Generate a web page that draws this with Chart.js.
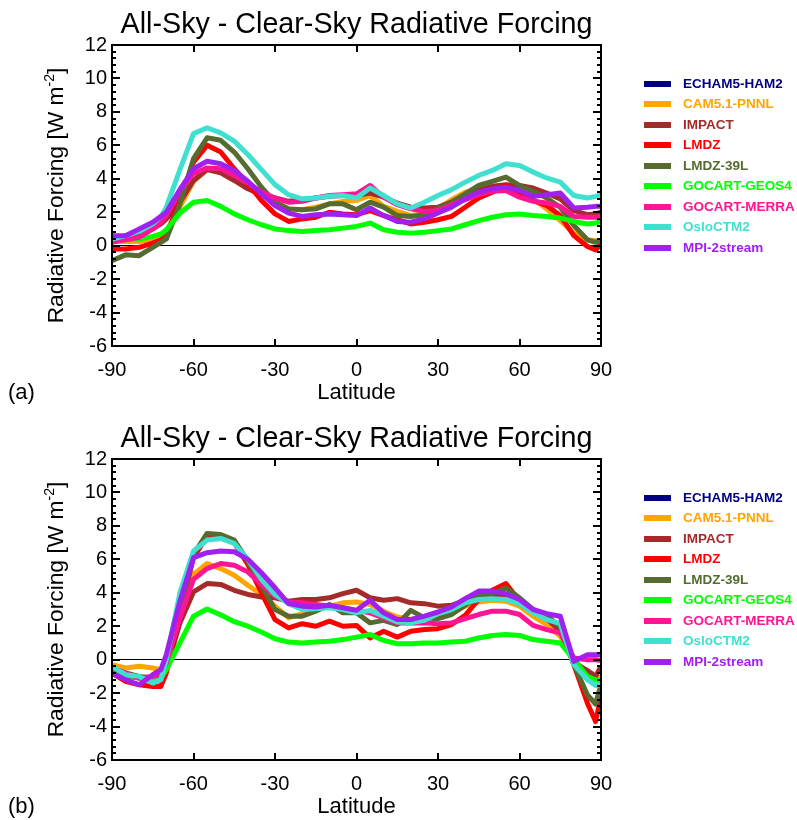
<!DOCTYPE html>
<html>
<head>
<meta charset="utf-8">
<script src="https://cdn.jsdelivr.net/npm/chart.js@4.4.1/dist/chart.umd.min.js"></script>
<style>
  html, body { margin: 0; padding: 0; background: #fff; overflow: hidden; }
  .panel { position: absolute; left: 0; width: 797px; height: 410px; }
</style>
</head>
<body>
<div class="panel" style="top:0"><canvas id="chartA" width="797" height="410"></canvas></div>
<div class="panel" style="top:414px"><canvas id="chartB" width="797" height="410"></canvas></div>
<script>
const FONT = '"Liberation Sans", Arial, Helvetica, sans-serif';

const latitudes = [-90, -85, -80, -75, -72, -70, -65, -60, -55, -50, -45, -40, -35, -30, -25, -20, -15, -10, -5,
    0, 5, 10, 15, 20, 25, 30, 35, 40, 45, 50, 55, 60, 65, 70, 75, 80, 85, 88, 90];

// ECHAM5-HAM2 is listed in the legend only: the figure draws no curve for it
const models = ['ECHAM5-HAM2', 'CAM5.1-PNNL', 'IMPACT', 'LMDZ', 'LMDZ-39L',
    'GOCART-GEOS4', 'GOCART-MERRA', 'OsloCTM2', 'MPI-2stream'];
const modelColors = ['#000080', '#ffa500', '#a52a2a', '#ff0000', '#556b2f',
    '#00ff00', '#ff1493', '#40e0d0', '#a020f0'];

// panel (a)
const camA = [0.25, 0.25, 0.25, 0.4, 0.6, 0.85, 2.3, 3.85, 4.55, 4.55, 4.2, 3.6, 3.05, 2.65, 2.2, 2.15, 2.3, 2.5, 2.65,
    2.7, 3.0, 2.35, 2.05, 1.8, 1.9, 2.2, 2.75, 3.2, 3.4, 3.5, 3.55, 3.25, 2.8, 2.2, 1.5, 0.75, 0.35, 0.3, 0.3];
const impactA = [0.2, 0.45, 0.7, 1.0, 1.3, 1.6, 2.6, 3.9, 4.55, 4.35, 3.9, 3.4, 3.05, 2.85, 2.65, 2.75, 2.85, 2.95, 3.0,
    3.0, 3.15, 2.9, 2.55, 2.3, 2.25, 2.3, 2.6, 3.0, 3.3, 3.55, 3.65, 3.6, 3.45, 3.15, 2.8, 2.1, 1.85, 1.9, 2.0];
const lmdzA = [-0.2, -0.2, -0.1, 0.15, 0.35, 0.6, 2.75, 5.0, 6.0, 5.6, 4.6, 3.7, 2.7, 1.9, 1.45, 1.6, 1.7, 2.0, 1.9,
    1.85, 2.1, 1.8, 1.55, 1.3, 1.4, 1.55, 1.75, 2.3, 2.85, 3.2, 3.6, 3.1, 2.7, 2.4, 1.8, 0.6, -0.05, -0.25, 0.1];
const lmdz39A = [-0.9, -0.55, -0.6, -0.1, 0.2, 0.4, 2.5, 5.2, 6.45, 6.3, 5.6, 4.6, 3.5, 2.6, 2.2, 2.15, 2.2, 2.5, 2.5,
    2.15, 2.6, 2.3, 1.8, 1.75, 1.85, 2.25, 2.6, 3.1, 3.6, 3.85, 4.1, 3.6, 3.25, 2.85, 2.3, 1.2, 0.35, 0.2, 0.3];
const geos4A = [0.35, 0.35, 0.4, 0.55, 0.7, 0.95, 1.95, 2.6, 2.7, 2.35, 1.9, 1.55, 1.25, 1.0, 0.9, 0.85, 0.9, 0.95, 1.05,
    1.15, 1.35, 0.95, 0.8, 0.75, 0.8, 0.9, 1.0, 1.25, 1.5, 1.7, 1.85, 1.9, 1.8, 1.75, 1.65, 1.45, 1.3, 1.35, 1.45];
const merraA = [0.25, 0.35, 0.5, 1.0, 1.4, 1.8, 3.3, 4.3, 4.65, 4.6, 4.2, 3.75, 3.2, 2.85, 2.6, 2.65, 2.85, 3.0, 3.05,
    3.1, 3.6, 2.9, 2.45, 2.2, 2.05, 2.1, 2.45, 2.75, 3.05, 3.25, 3.3, 2.9, 2.65, 2.55, 2.35, 1.75, 1.7, 1.7, 1.75];
const osloA = [0.4, 0.6, 0.85, 1.3, 1.75, 2.3, 4.55, 6.7, 7.05, 6.75, 6.25, 5.45, 4.55, 3.65, 3.05, 2.8, 2.85, 2.95, 3.0,
    2.85, 3.45, 3.0, 2.5, 2.25, 2.6, 3.0, 3.35, 3.8, 4.2, 4.5, 4.9, 4.8, 4.4, 4.05, 3.8, 3.0, 2.85, 2.95, 3.05];
const mpiA = [0.6, 0.6, 1.0, 1.4, 1.75, 2.0, 3.35, 4.6, 5.05, 4.9, 4.5, 3.85, 3.1, 2.4, 1.95, 1.75, 1.85, 1.9, 1.85,
    1.8, 2.25, 1.8, 1.45, 1.4, 1.6, 1.95, 2.3, 2.8, 3.2, 3.4, 3.5, 3.3, 2.95, 3.05, 3.15, 2.25, 2.3, 2.35, 2.35];

// panel (b)
const camB = [-0.3, -0.5, -0.4, -0.5, -0.6, -0.2, 2.9, 5.1, 5.75, 5.45, 5.05, 4.45, 3.9, 3.2, 2.5, 2.75, 2.95, 3.2, 3.4,
    3.45, 3.3, 2.9, 2.55, 2.4, 2.5, 2.55, 2.85, 3.2, 3.45, 3.55, 3.5, 3.2, 2.6, 2.1, 1.4, 0.0, -0.8, -1.0, -1.1];
const impactB = [-0.6, -1.0, -1.1, -1.2, -1.3, -0.6, 2.2, 4.05, 4.55, 4.5, 4.15, 3.9, 3.75, 3.7, 3.5, 3.6, 3.6, 3.7, 3.95,
    4.15, 3.7, 3.55, 3.65, 3.4, 3.35, 3.2, 3.25, 3.55, 3.95, 3.9, 3.7, 3.35, 2.85, 2.45, 1.7, -0.2, -0.65, -1.0, -0.4];
const lmdzB = [-0.8, -1.3, -1.5, -1.6, -1.6, -0.8, 2.8, 6.1, 7.4, 7.4, 7.0, 5.7, 4.0, 2.4, 1.9, 2.15, 2.0, 2.3, 2.0,
    2.05, 1.3, 1.7, 1.35, 1.7, 1.8, 1.85, 2.1, 2.65, 3.6, 4.15, 4.55, 3.5, 2.85, 2.55, 1.95, -0.3, -2.6, -3.7, -2.2];
const lmdz39B = [-0.5, -0.8, -1.0, -1.1, -1.1, -0.5, 2.9, 6.3, 7.55, 7.48, 7.15, 5.9, 4.4, 3.0, 2.6, 2.6, 2.9, 3.3, 2.8,
    2.8, 2.2, 2.35, 2.1, 2.95, 2.5, 2.45, 2.7, 3.25, 3.85, 3.95, 4.3, 3.7, 3.0, 2.65, 1.95, -0.3, -2.1, -2.65, -1.5];
const geos4B = [-0.7, -0.9, -1.1, -1.2, -1.1, -0.6, 1.0, 2.6, 3.03, 2.68, 2.27, 2.0, 1.65, 1.25, 1.05, 1.0, 1.05, 1.1, 1.2,
    1.35, 1.5, 1.15, 0.95, 0.95, 1.0, 1.0, 1.05, 1.1, 1.3, 1.45, 1.5, 1.45, 1.2, 1.1, 1.0, 0.0, -1.0, -1.2, -1.3];
const merraB = [-0.5, -0.8, -1.1, -1.0, -0.9, -0.2, 2.5, 4.8, 5.45, 5.75, 5.65, 5.25, 4.5, 3.8, 3.45, 3.4, 3.3, 3.2, 3.1,
    2.95, 2.8, 2.5, 2.2, 2.2, 2.2, 2.15, 2.2, 2.45, 2.7, 2.9, 2.9, 2.7, 2.05, 1.8, 1.6, 0.1, 0.0, 0.0, -0.05];
const osloB = [-0.4, -0.9, -1.0, -1.4, -1.2, 0.0, 4.0, 6.5, 7.15, 7.25, 6.95, 6.0, 4.8, 3.9, 3.35, 3.0, 3.05, 3.1, 3.0,
    2.8, 2.95, 2.6, 2.25, 2.2, 2.35, 2.75, 3.0, 3.4, 3.6, 3.65, 3.6, 3.35, 2.8, 2.4, 2.15, -0.3, -1.2, -1.55, -1.5];
const mpiB = [-0.8, -1.2, -1.5, -0.9, -0.6, 0.3, 3.5, 6.1, 6.4, 6.5, 6.45, 6.0, 5.2, 4.3, 3.35, 3.2, 3.15, 3.25, 3.1,
    2.95, 3.55, 2.8, 2.4, 2.4, 2.6, 2.85, 3.15, 3.65, 4.1, 4.1, 3.95, 3.6, 3.0, 2.75, 2.6, -0.1, 0.3, 0.3, 0.3];

const xTicks = [-90, -60, -30, 0, 30, 60, 90];
const yMin = -6, yMax = 12, yMinorStep = 0.4;

// box, inward ticks, titles and legend
const decor = {
    id: 'decor',
    afterDraw(chart, args, opts) {
        const ctx = chart.ctx;
        const a = chart.chartArea;
        const L = a.left, R = a.right, T = a.top, B = a.bottom;
        const xs = chart.scales.x, ys = chart.scales.y;
        ctx.save();
        ctx.fillStyle = '#000';
        ctx.fillRect(L - 1, T - 1, R - L + 2, 2);
        ctx.fillRect(L - 1, B - 1, R - L + 2, 2);
        ctx.fillRect(L - 1, T - 1, 2, B - T + 2);
        ctx.fillRect(R - 1, T - 1, 2, B - T + 2);
        for (const t of xTicks) {
            const px = Math.round(xs.getPixelForValue(t));
            ctx.fillRect(px - 1, B - 7, 2, 7);
            ctx.fillRect(px - 1, T, 2, 7);
        }
        const n = Math.round((yMax - yMin) / yMinorStep);
        for (let k = 0; k <= n; k++) {
            const py = Math.round(ys.getPixelForValue(yMin + k * yMinorStep));
            const len = k % 5 === 0 ? 8 : 4;
            ctx.fillRect(L, py - 1, len, 2);
            ctx.fillRect(R - len, py - 1, len, 2);
        }

        ctx.textBaseline = 'alphabetic';
        ctx.textAlign = 'center';
        ctx.font = '28.7px ' + FONT;
        ctx.fillText('All-Sky - Clear-Sky Radiative Forcing', (L + R) / 2, 33);
        ctx.font = '22px ' + FONT;
        ctx.fillText('Latitude', (L + R) / 2, 399);
        ctx.textAlign = 'left';
        ctx.fillText(opts.panel, 8, 399);

        // y-axis title with superscript
        const main = 'Radiative Forcing [W m', sup = '-2', end = ']';
        ctx.font = '22.8px ' + FONT;
        const w1 = ctx.measureText(main).width, w3 = ctx.measureText(end).width;
        ctx.font = '14px ' + FONT;
        const w2 = ctx.measureText(sup).width;
        const total = w1 + w2 + w3;
        ctx.save();
        ctx.translate(63, (T + B) / 2);
        ctx.rotate(-Math.PI / 2);
        ctx.font = '22.8px ' + FONT;
        ctx.fillText(main, -total / 2, 0);
        ctx.font = '14px ' + FONT;
        ctx.fillText(sup, -total / 2 + w1, -9);
        ctx.font = '22.8px ' + FONT;
        ctx.fillText(end, -total / 2 + w1 + w2, 0);
        ctx.restore();

        // legend
        ctx.font = 'bold 13.5px ' + FONT;
        ctx.textBaseline = 'middle';
        models.forEach((name, i) => {
            const ly = Math.round(83.5 + i * 20.5);
            ctx.fillStyle = modelColors[i];
            ctx.fillRect(644, ly - 3, 27, 6);
            ctx.fillText(name, 683, ly);
        });
        ctx.restore();
    }
};

function makeChart(canvasId, series, panel) {
    // series[k] belongs to models[k + 1]
    const datasets = series.map((vals, k) => ({
        label: models[k + 1],
        data: vals.map((v, j) => ({x: latitudes[j], y: v})),
        borderColor: modelColors[k + 1],
        backgroundColor: modelColors[k + 1],
        borderWidth: 5,
        borderJoinStyle: 'round',
        pointRadius: 0,
        fill: false,
        tension: 0,
        order: series.length - k
    }));

    return new Chart(document.getElementById(canvasId), {
        type: 'line',
        data: {datasets},
        plugins: [decor],
        options: {
            responsive: false,
            animation: false,
            devicePixelRatio: 1,
            layout: {padding: {left: 0, right: 196, top: 45, bottom: 0}},
            scales: {
                x: {
                    type: 'linear', min: -90, max: 90,
                    afterFit: s => { s.height = 64; },
                    afterBuildTicks: s => { s.ticks = xTicks.map(v => ({value: v})); },
                    grid: {display: false, drawTicks: false},
                    border: {display: false},
                    ticks: {color: '#000', font: {family: FONT, size: 20}, padding: 12, maxRotation: 0}
                },
                y: {
                    type: 'linear', min: yMin, max: yMax,
                    afterFit: s => { s.width = 112; },
                    grid: {
                        drawTicks: false,
                        color: c => (c.tick && c.tick.value === 0 ? '#000' : 'rgba(0,0,0,0)'),
                        lineWidth: 1
                    },
                    border: {display: false},
                    ticks: {stepSize: 2, color: '#000', font: {family: FONT, size: 20}, padding: 5}
                }
            },
            plugins: {
                legend: {display: false},
                tooltip: {enabled: false},
                title: {display: false},
                decor: {panel}
            }
        }
    });
}

makeChart('chartA', [camA, impactA, lmdzA, lmdz39A, geos4A, merraA, osloA, mpiA], '(a)');
makeChart('chartB', [camB, impactB, lmdzB, lmdz39B, geos4B, merraB, osloB, mpiB], '(b)');
</script>
</body>
</html>
